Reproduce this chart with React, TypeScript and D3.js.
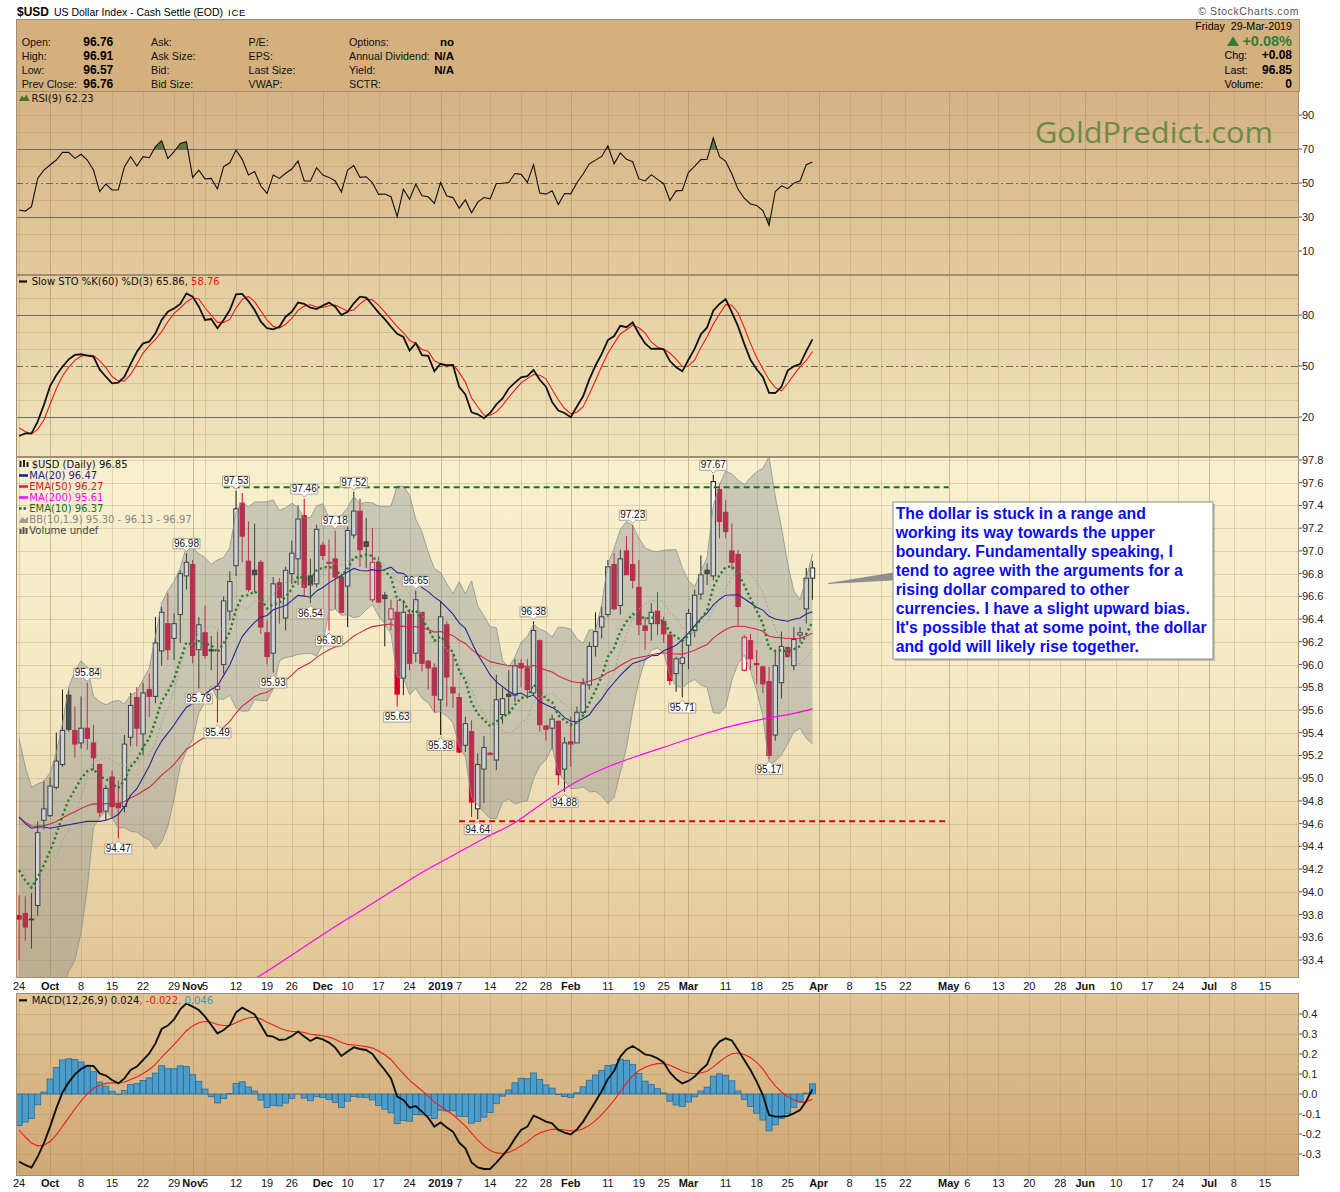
import React from 'react';
import * as d3 from 'd3';

// $USD daily candles, one entry per trading day from 24-Sep-2018 to 29-Mar-2019
const opens = [
  93.79, 93.81, 93.76, 93.88, 94.63, 94.67, 94.92, 95.12, 95.73, 95.42,
  95.31, 95.44, 95.31, 95.12, 94.71, 95.01, 94.78, 94.75, 95.36, 95.71,
  95.39, 95.78, 95.72, 96.12, 96.36, 96.23, 96.44, 96.78, 96.88, 96.13,
  96.28, 96.13, 95.78, 96.00, 96.47, 96.87, 97.42, 96.91, 96.83, 96.90,
  96.28, 96.10, 96.72, 96.41, 96.80, 96.93, 97.31, 96.78, 96.71, 97.05,
  96.90, 96.93, 96.77, 96.69, 97.14, 97.35, 97.08, 96.57, 96.90, 96.61,
  96.40, 96.46, 95.88, 96.44, 96.10, 96.46, 96.03, 95.97, 95.69, 96.35,
  95.80, 95.71, 95.29, 95.41, 94.73, 95.08, 95.22, 95.16, 95.56, 95.74,
  95.73, 96.01, 95.97, 95.75, 96.21, 95.46, 95.44, 95.50, 95.08, 95.32,
  95.31, 95.58, 95.82, 96.16, 96.33, 96.44, 96.88, 96.52, 97.00, 96.88,
  96.68, 96.34, 96.36, 96.47, 96.38, 96.26, 95.92, 96.01, 96.17, 96.30,
  96.62, 96.83, 96.78, 97.54, 97.34, 97.00, 96.97, 95.95, 96.21, 96.01,
  95.98, 95.85, 95.38, 95.84, 96.15, 95.99, 96.26, 96.49, 96.76,
];
const highs = [
  93.97, 93.96, 93.99, 94.62, 94.98, 95.01, 95.40, 95.78, 95.78, 95.63,
  95.72, 95.84, 95.47, 95.13, 94.94, 95.07, 94.98, 95.38, 95.75, 95.80,
  95.84, 95.92, 96.42, 96.51, 96.63, 96.45, 96.83, 96.98, 96.92, 96.42,
  96.52, 96.25, 96.29, 96.60, 96.82, 97.53, 97.51, 97.26, 97.24, 96.92,
  96.39, 96.77, 96.76, 96.86, 97.09, 97.40, 97.46, 96.93, 97.23, 97.08,
  97.10, 97.18, 96.80, 97.21, 97.52, 97.46, 97.29, 97.20, 96.95, 96.64,
  96.57, 96.57, 96.57, 96.49, 96.65, 96.46, 96.04, 96.01, 96.55, 96.38,
  96.10, 95.75, 95.54, 95.51, 95.22, 95.37, 95.23, 95.91, 95.80, 95.95,
  96.05, 96.05, 96.05, 96.38, 96.22, 95.46, 95.56, 95.51, 95.36, 95.54,
  95.63, 95.88, 96.20, 96.46, 96.51, 96.92, 96.98, 97.01, 97.13, 97.23,
  96.92, 96.42, 96.54, 96.64, 96.42, 96.27, 96.07, 96.21, 96.49, 96.66,
  96.96, 96.89, 97.67, 97.59, 97.45, 97.24, 97.01, 96.26, 96.27, 96.13,
  95.99, 95.98, 96.13, 96.29, 96.16, 96.33, 96.33, 96.85, 96.91,
];
const lows = [
  93.40, 93.57, 93.50, 93.79, 94.55, 94.66, 94.90, 95.10, 95.41, 95.18,
  95.26, 95.25, 95.07, 94.66, 94.63, 94.65, 94.47, 94.70, 95.28, 95.28,
  95.20, 95.54, 95.66, 95.99, 96.04, 96.04, 96.19, 96.66, 96.01, 95.79,
  96.05, 95.95, 95.49, 95.92, 96.39, 96.78, 96.90, 96.64, 96.64, 96.27,
  96.00, 95.93, 96.36, 96.30, 96.71, 96.70, 96.60, 96.54, 96.68, 96.92,
  96.30, 96.49, 96.45, 96.33, 97.11, 96.86, 96.85, 96.55, 96.54, 96.16,
  96.30, 95.63, 95.73, 95.95, 96.02, 95.94, 95.78, 95.58, 95.38, 95.63,
  95.62, 95.22, 95.23, 94.66, 94.64, 94.78, 95.20, 95.07, 95.48, 95.56,
  95.67, 95.80, 95.70, 95.73, 95.41, 95.33, 95.25, 94.94, 94.88, 95.10,
  95.31, 95.56, 95.78, 96.07, 96.23, 96.42, 96.48, 96.44, 96.79, 96.67,
  96.26, 96.13, 96.21, 96.26, 96.19, 95.82, 95.76, 95.71, 95.96, 96.24,
  96.57, 96.70, 96.74, 97.11, 97.11, 96.83, 96.35, 95.94, 95.95, 95.83,
  95.75, 95.17, 95.33, 95.70, 96.06, 95.95, 96.20, 96.36, 96.57,
];
const closes = [
  93.76, 93.69, 93.76, 94.52, 94.73, 94.93, 95.15, 95.42, 95.43, 95.30,
  95.44, 95.35, 95.18, 94.70, 94.91, 94.75, 94.74, 95.30, 95.64, 95.44,
  95.75, 95.72, 96.19, 96.46, 96.13, 96.36, 96.80, 96.90, 96.08, 96.35,
  96.08, 96.12, 95.81, 96.56, 96.73, 97.37, 97.13, 96.66, 96.79, 96.33,
  96.07, 96.71, 96.59, 96.83, 96.98, 97.28, 96.68, 96.70, 97.19, 96.96,
  96.89, 96.77, 96.46, 97.18, 97.35, 97.01, 97.04, 96.90, 96.55, 96.58,
  96.49, 95.74, 96.46, 96.01, 96.57, 96.01, 95.97, 95.73, 96.42, 95.89,
  95.75, 95.23, 95.48, 94.79, 95.12, 95.27, 95.21, 95.69, 95.70, 95.72,
  95.99, 95.97, 95.78, 96.30, 95.47, 95.43, 95.52, 95.03, 95.31, 95.30,
  95.58, 95.83, 96.16, 96.29, 96.42, 96.86, 96.49, 96.93, 96.79, 96.74,
  96.35, 96.30, 96.46, 96.36, 96.27, 95.86, 96.05, 96.06, 96.45, 96.61,
  96.79, 96.80, 97.61, 97.26, 97.17, 96.90, 96.51, 96.24, 96.05, 96.00,
  95.83, 95.20, 95.99, 96.16, 96.07, 96.22, 96.28, 96.76, 96.85,
];

const firstDay = '2018-09-24';
const holidays = ['2018-11-22', '2018-12-05', '2018-12-25', '2019-01-01', '2019-01-21',
  '2019-02-18', '2019-04-19', '2019-05-27', '2019-07-04'];

// indicator values for the days whose history is not on it
const ema10Start = 94.19;
const ema50Start = 94.65;
const ma20Start = [94.66, 94.60, 94.56, 94.57, 94.57, 94.56, 94.57, 94.58, 94.59, 94.60,
  94.61, 94.62, 94.62, 94.62, 94.63, 94.65, 94.68, 94.75, 94.85];
const bbUpperStart = [95.35, 95.10, 94.92, 94.95, 94.97, 95.05, 95.22, 95.48, 95.80];
const bbMidStart = [94.25, 94.15, 94.06, 94.05, 94.10, 94.20, 94.30, 94.45, 94.55];
const bbLowerStart = [92.90, 92.80, 92.75, 92.80, 92.80, 92.85, 92.95, 93.10, 93.30];
const ma200Days = [30, 35, 40, 45, 50, 55, 60, 65, 70, 75, 80, 85, 90, 95, 100, 105, 110, 115, 120, 125, 128];
const ma200Values = [92.95, 93.13, 93.30, 93.48, 93.66, 93.83, 94.00, 94.17, 94.32, 94.47, 94.61,
  94.80, 94.97, 95.10, 95.20, 95.29, 95.38, 95.46, 95.52, 95.57, 95.61];
const rsiStart = [
  34.1, 33.5, 36.1, 52.7, 57.6, 60.6, 63.5, 68.0, 68.0, 64.5,
  66.9, 63.5, 57.6, 44.9, 49.4, 45.9, 45.9, 59.6, 65.5, 60.0,
  65.5, 64.9, 71.4, 74.9, 64.5, 68.4, 73.3, 74.3, 53.3, 57.6,
  52.4, 52.7, 46.5, 59.6, 61.9, 69.4, 63.9, 54.7, 56.7, 48.2,
  43.9, 54.7, 52.7, 55.7, 58.2, 63.0, 51.2, 51.2, 59.0, 54.7,
  53.3, 51.2, 44.7, 57.6, 60.2, 53.3, 53.7, 50.2, 43.3, 43.5,
  41.9, 30.2, 46.3, 40.4, 49.4, 42.5, 41.9, 38.0, 50.2, 42.3,
];
const stoKStart = [
  8.8, 10.4, 10.4, 17.3, 27.1, 38.2, 44.5, 49.6, 53.9, 56.5,
  56.9, 56.1, 55.5, 48.0, 43.7, 39.8, 40.2, 43.7, 51.2, 58.4,
  63.3, 64.3, 69.2, 77.1, 81.9, 83.9, 86.5, 92.7, 90.8, 84.9,
  77.1, 77.6, 72.2, 77.1, 82.9, 92.2, 92.4, 88.2, 82.9, 76.1,
  72.2, 71.6, 73.1, 79.0, 81.9, 87.3, 86.5, 84.3, 83.5, 85.5,
  87.3, 84.9, 80.0, 81.9, 86.9, 90.8, 90.2, 85.9, 81.4, 77.6,
  73.1,
];
const stoDStart = [13.5, 11.5];
const macdValues = [
  -0.338, -0.355, -0.368, -0.313, -0.247, -0.163, -0.072, 0.008, 0.058, 0.098,
  0.125, 0.142, 0.140, 0.103, 0.092, 0.070, 0.053, 0.078, 0.120, 0.137,
  0.170, 0.203, 0.253, 0.325, 0.342, 0.373, 0.423, 0.453, 0.437, 0.420,
  0.387, 0.345, 0.303, 0.320, 0.345, 0.408, 0.432, 0.415, 0.398, 0.345,
  0.292, 0.287, 0.270, 0.273, 0.290, 0.312, 0.287, 0.265, 0.282, 0.273,
  0.257, 0.232, 0.190, 0.212, 0.233, 0.225, 0.220, 0.200, 0.158, 0.120,
  0.078, -0.013, -0.030, -0.068, -0.060, -0.088, -0.118, -0.163, -0.142, -0.168,
  -0.188, -0.243, -0.272, -0.342, -0.367, -0.375, -0.375, -0.343, -0.308, -0.272,
  -0.222, -0.180, -0.163, -0.108, -0.122, -0.138, -0.147, -0.180, -0.193, -0.202,
  -0.177, -0.138, -0.088, -0.038, 0.015, 0.075, 0.115, 0.187, 0.223, 0.240,
  0.220, 0.198, 0.192, 0.178, 0.158, 0.108, 0.075, 0.053, 0.065, 0.087,
  0.120, 0.148, 0.225, 0.262, 0.278, 0.267, 0.220, 0.170, 0.120, 0.062,
  -0.005, -0.105, -0.113, -0.113, -0.110, -0.097, -0.080, -0.035, 0.024,
];
const macdSignalStart = -0.18;

const xTicks: [string, string, boolean][] = [
  ['2018-09-24', '24', false], ['2018-10-01', 'Oct', true], ['2018-10-08', '8', false],
  ['2018-10-15', '15', false], ['2018-10-22', '22', false], ['2018-10-29', '29', false],
  ['2018-11-01', 'Nov', true], ['2018-11-05', '5', false], ['2018-11-12', '12', false],
  ['2018-11-19', '19', false], ['2018-11-26', '26', false], ['2018-12-03', 'Dec', true],
  ['2018-12-10', '10', false], ['2018-12-17', '17', false], ['2018-12-24', '24', false],
  ['2019-01-02', '2019', true], ['2019-01-07', '7', false], ['2019-01-14', '14', false],
  ['2019-01-22', '22', false], ['2019-01-28', '28', false], ['2019-02-01', 'Feb', true],
  ['2019-02-11', '11', false], ['2019-02-19', '19', false], ['2019-02-25', '25', false],
  ['2019-03-01', 'Mar', true], ['2019-03-11', '11', false], ['2019-03-18', '18', false],
  ['2019-03-25', '25', false], ['2019-04-01', 'Apr', true], ['2019-04-08', '8', false],
  ['2019-04-15', '15', false], ['2019-04-22', '22', false], ['2019-05-01', 'May', true],
  ['2019-05-06', '6', false], ['2019-05-13', '13', false], ['2019-05-20', '20', false],
  ['2019-05-28', '28', false], ['2019-06-03', 'Jun', true], ['2019-06-10', '10', false],
  ['2019-06-17', '17', false], ['2019-06-24', '24', false], ['2019-07-01', 'Jul', true],
  ['2019-07-08', '8', false], ['2019-07-15', '15', false],
];
const highTags = [11, 27, 35, 46, 51, 54, 64, 83, 99, 112];
const lowTags = [16, 29, 32, 41, 47, 50, 61, 68, 74, 88, 107, 121];
const rangeLines = [
  { value: 97.56, from: 33, to: 150, color: '#127512' },
  { value: 94.62, from: 71, to: 150, color: '#e60000' },
];
const note = [
  'The dollar is stuck in a range and',
  'working its way towards the upper',
  'boundary. Fundamentally speaking, I',
  'tend to agree with the arguments for a',
  'rising dollar compared to other',
  'currencies. I have a slight upward bias.',
  "It's possible that at some point, the dollar",
  'and gold will likely rise together.',
];

// ---- derived series ----
const n = closes.length;
const mean = (a: number[]) => a.reduce((s, v) => s + v, 0) / a.length;
const ema = (seed: number, period: number) => {
  const k = 2 / (period + 1);
  const out = [seed];
  for (let i = 1; i < n; i++) out.push(out[i - 1] + k * (closes[i] - out[i - 1]));
  return out;
};
const ema10 = ema(ema10Start, 10);
const ema50 = ema(ema50Start, 50);
const ma20 = closes.map((_, i) => (i < ma20Start.length ? ma20Start[i] : mean(closes.slice(i - 19, i + 1))));
const bb = closes.map((_, i) => {
  if (i < bbMidStart.length) return { mid: bbMidStart[i], up: bbUpperStart[i], lo: bbLowerStart[i] };
  const w = closes.slice(i - 9, i + 1);
  const m = mean(w);
  const sd = Math.sqrt(mean(w.map((v) => (v - m) ** 2)));
  return { mid: m, up: m + 1.9 * sd, lo: m - 1.9 * sd };
});
const rsi = (() => {
  const out = [...rsiStart];
  let ag = 0, al = 0;
  for (let i = 1; i < n; i++) {
    const ch = closes[i] - closes[i - 1];
    const g = Math.max(ch, 0), l = Math.max(-ch, 0);
    if (i <= 9) { ag += g / 9; al += l / 9; } else { ag = (ag * 8 + g) / 9; al = (al * 8 + l) / 9; }
    if (i >= rsiStart.length) out[i] = al === 0 ? 100 : 100 - 100 / (1 + ag / al);
  }
  return out;
})();
const fastK = closes.map((c, i) => {
  if (i < 59) return NaN;
  const hh = d3.max(highs.slice(i - 59, i + 1)) as number;
  const ll = d3.min(lows.slice(i - 59, i + 1)) as number;
  return ((c - ll) / (hh - ll)) * 100;
});
const stoK = closes.map((_, i) => (i < stoKStart.length ? stoKStart[i] : mean(fastK.slice(i - 2, i + 1))));
const stoD = stoK.map((_, i) => (i < stoDStart.length ? stoDStart[i] : mean(stoK.slice(i - 2, i + 1))));
const signal = [macdSignalStart];
for (let i = 1; i < n; i++) signal.push(signal[i - 1] + 0.2 * (macdValues[i] - signal[i - 1]));
const hist = macdValues.map((m, i) => m - signal[i]);

const tradingDays: string[] = [];
for (let t = Date.parse(firstDay + 'T00:00:00Z'); tradingDays.length < 210; t += 864e5) {
  const d = new Date(t);
  const s = d.toISOString().slice(0, 10);
  const wd = d.getUTCDay();
  if (wd > 0 && wd < 6 && !holidays.includes(s)) tradingDays.push(s);
}
const dayIdx = new Map(tradingDays.map((s, i) => [s, i] as [string, number]));

// ---- layout ----
const PL = 16, PR = 1299;
const P = { head: [19, 91], rsi: [91, 275], sto: [275, 457], price: [457, 978], macd: [993, 1176] };
const ARIAL = '"Liberation Sans", Arial, sans-serif';
const VERD = '"DejaVu Sans", Verdana, sans-serif';
const GRID = '#a98a62';
const BORDER = '#a38c73';

const xs = d3.scaleLinear().domain([-0.5, 206.5]).range([PL, PR]);
const ry = d3.scaleLinear().domain([0, 100]).range([268, 98]);
const sy = d3.scaleLinear().domain([0, 100]).range([451, 281]);
const py = d3.scaleLinear().domain([93.4, 97.8]).range([960, 460]);
const my = d3.scaleLinear().domain([-0.3, 0.4]).range([1154, 1014]);

const priceTicks = d3.range(0, 23).map((k) => +(93.4 + 0.2 * k).toFixed(1));
const macdTicks = [-0.3, -0.2, -0.1, 0, 0.1, 0.2, 0.3, 0.4];

const seriesLine = (y: d3.ScaleLinear<number, number>) =>
  d3.line<number>().defined((v) => !isNaN(v)).x((_, i) => xs(i)).y((v) => y(v));

function VGrid({ top, bottom }: { top: number; bottom: number }) {
  return (
    <g>
      {xTicks.map(([d, , month]) => {
        const x = Math.round(xs(dayIdx.get(d) as number)) + 0.5;
        return <line key={d} x1={x} x2={x} y1={top} y2={bottom} stroke={GRID} strokeOpacity={month ? 0.55 : 0.3} />;
      })}
    </g>
  );
}

function HLine({ y, solid, dashdot }: { y: number; solid?: boolean; dashdot?: boolean }) {
  const yy = Math.round(y) + 0.5;
  if (solid || dashdot)
    return <line x1={PL} x2={PR} y1={yy} y2={yy} stroke="#6e6a66" strokeWidth={1.2} strokeDasharray={dashdot ? '7 3 2 3' : undefined} />;
  return <line x1={PL} x2={PR} y1={yy} y2={yy} stroke={GRID} strokeOpacity={0.3} />;
}

function AxisLabel({ y, text }: { y: number; text: string }) {
  return (
    <g>
      <line x1={PR} x2={PR + 3} y1={y} y2={y} stroke="#555" />
      <text x={PR + 3} y={y + 4} fontFamily={ARIAL} fontSize={11} fill="#222">{text}</text>
    </g>
  );
}

function PriceTag({ i, hi }: { i: number; hi: boolean }) {
  const v = hi ? highs[i] : lows[i];
  const x = xs(i), y = py(v);
  const w = 27, h = 10;
  let d: string, ty: number;
  if (hi) {
    const b = y - 4.5;
    d = `M${x - w / 2},${b - h}H${x + w / 2}V${b}H${x + 3}L${x},${b + 3}L${x - 3},${b}H${x - w / 2}Z`;
    ty = b - 1.8;
  } else {
    const t = y + 5.5;
    d = `M${x - w / 2},${t}H${x - 3}L${x},${t - 3}L${x + 3},${t}H${x + w / 2}V${t + h}H${x - w / 2}Z`;
    ty = t + h - 1.8;
  }
  return (
    <g>
      <path d={d} fill="#fff" stroke="#b39e88" strokeWidth={1} />
      <text x={x} y={ty} textAnchor="middle" fontFamily={ARIAL} fontSize={10} fill="#111">{v.toFixed(2)}</text>
    </g>
  );
}

export default function App() {
  const [pt, pb] = P.price;
  const bandArea = d3.area<{ up: number; lo: number }>().x((_, i) => xs(i)).y0((d) => py(d.lo)).y1((d) => py(d.up));
  const ma200Line = d3.line<number>().x((d) => xs(d)).y((_, k) => py(ma200Values[k])).curve(d3.curveMonotoneX);
  const rsiArea = (lvl: number) => d3.area<number>().x((_, i) => xs(i)).y0(ry(lvl)).y1((v) => ry(v));

  const headLabels = [
    ['Open:', 'High:', 'Low:', 'Prev Close:'],
    ['Ask:', 'Ask Size:', 'Bid:', 'Bid Size:'],
    ['P/E:', 'EPS:', 'Last Size:', 'VWAP:'],
    ['Options:', 'Annual Dividend:', 'Yield:', 'SCTR:'],
  ];
  const headCols = [21.7, 151, 248.5, 349];
  const headVals1 = ['96.76', '96.91', '96.57', '96.76'];
  const headVals4 = ['no', 'N/A', 'N/A', ''];
  const rowY = [45.5, 59.8, 74.1, 88.2];

  return (
    <svg width={1340} height={1192} viewBox="0 0 1340 1192" style={{ position: 'absolute', left: 0, top: 0, background: '#fff' }}>
      <defs>
        <linearGradient id="gRsi" x1="0" y1="0" x2="0" y2="1">
          <stop offset="0" stopColor="#d5b385" /><stop offset="1" stopColor="#e3ca9c" />
        </linearGradient>
        <linearGradient id="gSto" x1="0" y1="0" x2="0" y2="1">
          <stop offset="0" stopColor="#e4cc9e" /><stop offset="1" stopColor="#f0e4bc" />
        </linearGradient>
        <linearGradient id="gPrice" x1="0" y1="0" x2="0" y2="1">
          <stop offset="0" stopColor="#f7f0cf" /><stop offset="0.45" stopColor="#f4e9c4" /><stop offset="1" stopColor="#e1c595" />
        </linearGradient>
        <linearGradient id="gMacd" x1="0" y1="0" x2="0" y2="1">
          <stop offset="0" stopColor="#e0c596" /><stop offset="1" stopColor="#cfa774" />
        </linearGradient>
        <clipPath id="cRsi"><rect x={PL} y={P.rsi[0]} width={PR - PL} height={P.rsi[1] - P.rsi[0]} /></clipPath>
        <clipPath id="cRsiHi"><rect x={PL} y={P.rsi[0]} width={PR - PL} height={ry(70) - P.rsi[0]} /></clipPath>
        <clipPath id="cRsiLo"><rect x={PL} y={ry(30)} width={PR - PL} height={P.rsi[1] - ry(30)} /></clipPath>
        <clipPath id="cSto"><rect x={PL} y={P.sto[0]} width={PR - PL} height={P.sto[1] - P.sto[0]} /></clipPath>
        <clipPath id="cPrice"><rect x={PL} y={pt} width={PR - PL} height={pb - pt} /></clipPath>
        <clipPath id="cMacd"><rect x={PL} y={P.macd[0]} width={PR - PL} height={P.macd[1] - P.macd[0]} /></clipPath>
      </defs>

      {/* title + header */}
      <text x={17} y={16} fontFamily={ARIAL} fontWeight="bold" fontSize={13.5} textLength={32} lengthAdjust="spacingAndGlyphs">$USD</text>
      <text x={54} y={16} fontFamily={ARIAL} fontSize={10.8} textLength={169} lengthAdjust="spacingAndGlyphs">US Dollar Index - Cash Settle (EOD)</text>
      <text x={228} y={16} fontFamily={ARIAL} fontSize={9.5} letterSpacing={0.8}>ICE</text>
      <text x={PR} y={15} textAnchor="end" fontFamily={ARIAL} fontSize={10.5} fill="#555" letterSpacing={0.6}>© StockCharts.com</text>
      <rect x={PL + 0.5} y={P.head[0] + 0.5} width={PR - PL} height={P.head[1] - P.head[0]} fill="#d4b07f" stroke={BORDER} />
      {headLabels.map((col, c) =>
        col.map((lab, r) => (
          <text key={lab} x={headCols[c]} y={rowY[r]} fontFamily={ARIAL} fontSize={10.7} fill="#111">{lab}</text>
        ))
      )}
      {headVals1.map((v, r) => (
        <text key={'a' + r} x={113.3} y={rowY[r]} textAnchor="end" fontFamily={ARIAL} fontWeight="bold" fontSize={12}>{v}</text>
      ))}
      {headVals4.map((v, r) => (
        <text key={'b' + r} x={454} y={rowY[r]} textAnchor="end" fontFamily={ARIAL} fontWeight="bold" fontSize={11.5}>{v}</text>
      ))}
      <text x={1292} y={30} textAnchor="end" fontFamily={ARIAL} fontSize={10.7}>{'Friday\u00a0\u00a029-Mar-2019'}</text>
      <path d="M1227,46L1233,36.5L1239,46Z" fill="#367a38" />
      <text x={1292} y={46} textAnchor="end" fontFamily={ARIAL} fontWeight="bold" fontSize={14.5} fill="#367a38">+0.08%</text>
      {[['Chg:', '+0.08', 59], ['Last:', '96.85', 74], ['Volume:', '0', 88]].map(([a, b, y]) => (
        <g key={a as string}>
          <text x={1224.5} y={y as number} fontFamily={ARIAL} fontSize={10.7}>{a}</text>
          <text x={1292} y={y as number} textAnchor="end" fontFamily={ARIAL} fontWeight="bold" fontSize={12}>{b}</text>
        </g>
      ))}

      {/* RSI panel */}
      <rect x={PL} y={P.rsi[0]} width={PR - PL} height={P.rsi[1] - P.rsi[0]} fill="url(#gRsi)" />
      <VGrid top={P.rsi[0]} bottom={P.rsi[1]} />
      {[10, 20, 40, 60, 80, 90].map((v) => <HLine key={v} y={ry(v)} />)}
      <HLine y={ry(70)} solid /><HLine y={ry(30)} solid /><HLine y={ry(50)} dashdot />
      <text x={1035} y={143} fontFamily='"Open Sans", Lato, sans-serif' fontSize={30} fill="#6b8a46" textLength={238} lengthAdjust="spacingAndGlyphs">GoldPredict.com</text>
      <g clipPath="url(#cRsiHi)"><path d={rsiArea(70)(rsi) as string} fill="#5b7a3a" /></g>
      <g clipPath="url(#cRsiLo)"><path d={rsiArea(30)(rsi) as string} fill="#5b7a3a" /></g>
      <g clipPath="url(#cRsi)"><path d={seriesLine(ry)(rsi) as string} fill="none" stroke="#111" strokeWidth={1.1} /></g>
      <path d="M19,101L22,95.5L24,98L26.5,94.5L29.5,101Z" fill="#4e7030" />
      <text x={31.5} y={102.3} fontFamily={VERD} fontSize={10} fill="#111">RSI(9) 62.23</text>
      {[90, 70, 50, 30, 10].map((v) => <AxisLabel key={v} y={ry(v)} text={String(v)} />)}

      {/* Slow stochastic panel */}
      <rect x={PL} y={P.sto[0]} width={PR - PL} height={P.sto[1] - P.sto[0]} fill="url(#gSto)" />
      <VGrid top={P.sto[0]} bottom={P.sto[1]} />
      {[10, 30, 40, 60, 70, 90].map((v) => <HLine key={v} y={sy(v)} />)}
      <HLine y={sy(80)} solid /><HLine y={sy(20)} solid /><HLine y={sy(50)} dashdot />
      <g clipPath="url(#cSto)">
        <path d={seriesLine(sy)(stoD) as string} fill="none" stroke="#ee1c1c" strokeWidth={1.1} />
        <path d={seriesLine(sy)(stoK) as string} fill="none" stroke="#111" strokeWidth={1.8} />
      </g>
      <line x1={19} x2={27} y1={281.5} y2={281.5} stroke="#111" strokeWidth={2.2} />
      <text x={31.7} y={285.2} fontFamily={VERD} fontSize={10} fill="#111">
        Slow STO %K(60) %D(3) 65.86, <tspan fill="#ee1111">58.76</tspan>
      </text>
      {[80, 50, 20].map((v) => <AxisLabel key={v} y={sy(v)} text={String(v)} />)}

      {/* price panel */}
      <rect x={PL} y={pt} width={PR - PL} height={pb - pt} fill="url(#gPrice)" />
      <VGrid top={pt} bottom={pb} />
      {priceTicks.map((v) => <HLine key={v} y={py(v)} />)}
      <g clipPath="url(#cPrice)">
        {closes.map((c, i) => {
          const o = opens[i];
          const prev = i ? closes[i - 1] : o;
          const col = c >= prev ? '#1c1c1c' : '#d6002c';
          const hollow = c >= o;
          const x = xs(i);
          const y1 = py(Math.max(o, c)), y2 = py(Math.min(o, c));
          return (
            <g key={i}>
              <line x1={x} x2={x} y1={py(highs[i])} y2={py(lows[i])} stroke={col} strokeWidth={1} />
              <rect x={x - 2.2} y={y1} width={4.4} height={Math.max(y2 - y1, 0.8)} fill={hollow ? '#fff' : c >= prev ? '#333' : col} stroke={col} strokeWidth={1} />
            </g>
          );
        })}
        <path d={bandArea(bb) as string} fill="rgb(122,132,138)" fillOpacity={0.36} />
        <path d={seriesLine(py)(bb.map((b) => b.up)) as string} fill="none" stroke="#8f918e" strokeOpacity={0.8} />
        <path d={seriesLine(py)(bb.map((b) => b.lo)) as string} fill="none" stroke="#8f918e" strokeOpacity={0.8} />
        <path d={seriesLine(py)(bb.map((b) => b.mid)) as string} fill="none" stroke="#a3a3a0" strokeDasharray="2 2" />
        <path d={seriesLine(py)(ema50) as string} fill="none" stroke="#d02a46" strokeWidth={1.1} />
        <path d={seriesLine(py)(ma20) as string} fill="none" stroke="#26269a" strokeWidth={1.1} />
        <path d={ma200Line(ma200Days) as string} fill="none" stroke="#ff00ff" strokeWidth={1.2} />
        <path d={seriesLine(py)(ema10) as string} fill="none" stroke="#2a7a2a" strokeWidth={2.4} strokeDasharray="2.2 2.8" />
        {rangeLines.map((r) => (
          <line key={r.value} x1={xs(r.from)} x2={xs(r.to)} y1={py(r.value)} y2={py(r.value)} stroke={r.color} strokeWidth={2} strokeDasharray="6 4" />
        ))}
        {highTags.map((i) => <PriceTag key={'h' + i} i={i} hi />)}
        {lowTags.map((i) => <PriceTag key={'l' + i} i={i} hi={false} />)}
      </g>
      {/* legend */}
      <g fontFamily={VERD} fontSize={10}>
        <rect x={19.5} y={461} width={2} height={6} fill="#222" /><rect x={23} y={460} width={2} height={7} fill="#222" /><rect x={26.5} y={462} width={2} height={5} fill="#222" />
        <text x={31.7} y={468} fill="#111">$USD (Daily) 96.85</text>
        <line x1={19} x2={28} y1={475.5} y2={475.5} stroke="#1c1c8c" strokeWidth={2.5} />
        <text x={29.3} y={479.3} fill="#1c1c8c">MA(20) 96.47</text>
        <line x1={19} x2={28} y1={486.5} y2={486.5} stroke="#d21a3c" strokeWidth={2.5} />
        <text x={29.3} y={490.3} fill="#d21a3c">EMA(50) 96.27</text>
        <line x1={19} x2={28} y1={497.5} y2={497.5} stroke="#ff00ff" strokeWidth={2.5} />
        <text x={29.3} y={501.3} fill="#ff00ff">MA(200) 95.61</text>
        <line x1={19} x2={28} y1={508.5} y2={508.5} stroke="#1d6b1d" strokeWidth={2.5} strokeDasharray="2.5 2" />
        <text x={29.3} y={512.3} fill="#1d6b1d">EMA(10) 96.37</text>
        <path d="M19,523L22,517L25,519.5L28,516.5L28,523Z" fill="#9b9b95" />
        <text x={29.3} y={523.3} fill="#878787">BB(10,1.9) 95.30 - 96.13 - 96.97</text>
        <rect x={19.5} y={529} width={2} height={5} fill="#555" /><rect x={22.5} y={527} width={2} height={7} fill="#555" /><rect x={25.5} y={528} width={2} height={6} fill="#555" />
        <text x={29.3} y={533.5} fill="#444">Volume undef</text>
      </g>
      {priceTicks.map((v) => <AxisLabel key={v} y={py(v)} text={v.toFixed(1)} />)}

      {/* note */}
      <path d="M893,573L893,580L828,583.5Z" fill="#8f8f8f" stroke="#7a7a7a" strokeWidth={0.6} />
      <rect x={895} y={504} width={320} height={157} fill="#8a8a8a" fillOpacity={0.45} />
      <rect x={893} y={502} width={320} height={157} fill="#fff" stroke="#8c8c8c" />
      {note.map((line, k) => (
        <text key={k} x={895.7} y={519 + 19 * k} fontFamily={ARIAL} fontWeight="bold" fontSize={15.8} fill="#0c0cf0">{line}</text>
      ))}

      {/* x labels between price and MACD, and at the bottom */}
      {[990, 1187].map((yy) =>
        xTicks.map(([d, lab, month]) => (
          <text key={yy + d} x={xs(dayIdx.get(d) as number)} y={yy} textAnchor="middle" fontFamily={ARIAL} fontSize={11} fontWeight={month ? 'bold' : 'normal'} fill="#111">{lab}</text>
        ))
      )}

      {/* MACD panel */}
      <rect x={PL} y={P.macd[0]} width={PR - PL} height={P.macd[1] - P.macd[0]} fill="url(#gMacd)" />
      <VGrid top={P.macd[0]} bottom={P.macd[1]} />
      {macdTicks.map((v) => <HLine key={v} y={my(v)} />)}
      <g clipPath="url(#cMacd)">
        {hist.map((h, i) => (
          <rect key={i} x={xs(i) - 3} y={my(Math.max(h, 0))} width={6} height={Math.abs(my(h) - my(0))} fill="#4d9dca" stroke="#2b6b97" strokeWidth={0.8} />
        ))}
        <path d={seriesLine(my)(signal) as string} fill="none" stroke="#ee1c1c" strokeWidth={1.1} />
        <path d={seriesLine(my)(macdValues) as string} fill="none" stroke="#111" strokeWidth={1.9} />
      </g>
      <line x1={19} x2={27} y1={1000.3} y2={1000.3} stroke="#111" strokeWidth={2.2} />
      <text x={31.7} y={1004} fontFamily={VERD} fontSize={10} fill="#111">
        MACD(12,26,9) 0.024<tspan fill="#ee1111">, -0.022</tspan><tspan fill="#3d95cc">, 0.046</tspan>
      </text>
      {macdTicks.map((v) => <AxisLabel key={v} y={my(v)} text={v.toFixed(1)} />)}

      {/* panel borders */}
      {[P.rsi, P.sto, P.price, P.macd].map(([a, b], k) => (
        <rect key={k} x={PL + 0.5} y={a + 0.5} width={PR - PL - 1} height={b - a - 1} fill="none" stroke={BORDER} />
      ))}
    </svg>
  );
}
